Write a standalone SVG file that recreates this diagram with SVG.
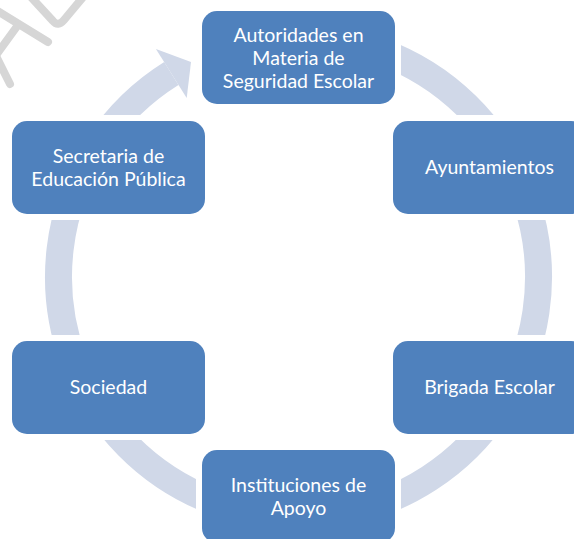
<svg xmlns="http://www.w3.org/2000/svg" width="574" height="539" viewBox="0 0 574 539">
<style>
.wm{fill:none;stroke:#d6d6d6;stroke-width:8;stroke-linecap:round;stroke-linejoin:round}
.ring{fill:none;stroke:#d0d8e8;stroke-width:27}
.head{fill:#d0d8e8}
.box{fill:#4f81bd;stroke:#ffffff;stroke-width:12;paint-order:stroke}
.lbl{font-family:Lato,"Open Sans","Liberation Sans",sans-serif;font-size:19.5px;fill:#ffffff;text-anchor:middle}
</style>
<rect width="574" height="539" fill="#ffffff"/>
<g id="watermark">
<line class="wm" x1="-4" y1="10" x2="48" y2="42"/>
<line class="wm" x1="18" y1="25" x2="-6" y2="58"/>
<line class="wm" x1="-4" y1="56" x2="10" y2="84"/>
<path class="wm" d="M30,-4 L53,21 Q58,27 64,20 L84,-4"/>
</g>
<g id="connectors">
<path class="ring" d="M380.58,51.47 A240,240 0 1 1 171.32,73.47"/>
<polygon class="head" points="155.95,48.89 191,62 186.69,98.07"/>
</g>
<g id="n1"><rect class="box" x="202" y="11" width="193" height="93" rx="15"/>
<text class="lbl" x="298.5" y="41.5">Autoridades en</text>
<text class="lbl" x="298.5" y="64.5">Materia de</text>
<text class="lbl" x="298.5" y="87.5">Seguridad Escolar</text></g>
<g id="n2"><rect class="box" x="393" y="121" width="193" height="93" rx="15"/>
<text class="lbl" x="489.5" y="174">Ayuntamientos</text></g>
<g id="n3"><rect class="box" x="393" y="341" width="193" height="93" rx="15"/>
<text class="lbl" x="489.5" y="394">Brigada Escolar</text></g>
<g id="n4"><rect class="box" x="202" y="450" width="193" height="93" rx="15"/>
<text class="lbl" x="298.5" y="491.5">Instituciones de</text>
<text class="lbl" x="298.5" y="514.5">Apoyo</text></g>
<g id="n5"><rect class="box" x="12" y="341" width="193" height="93" rx="15"/>
<text class="lbl" x="108.5" y="394">Sociedad</text></g>
<g id="n6"><rect class="box" x="12" y="121" width="193" height="93" rx="15"/>
<text class="lbl" x="108.5" y="162.5">Secretaria de</text>
<text class="lbl" x="108.5" y="185.5">Educación Pública</text></g>
</svg>
